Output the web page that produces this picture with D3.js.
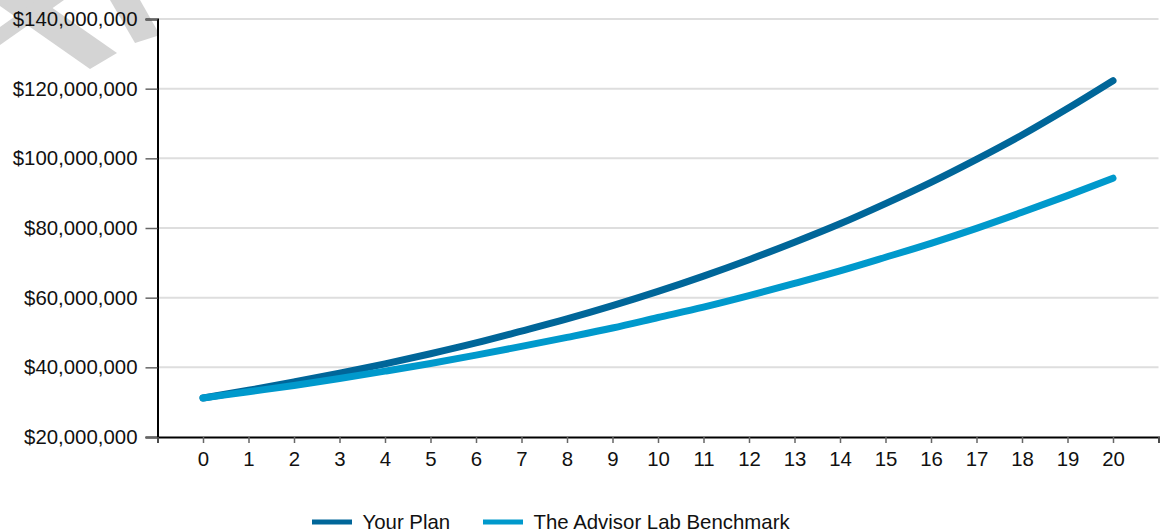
<!DOCTYPE html>
<html>
<head>
<meta charset="utf-8">
<script src="https://cdn.jsdelivr.net/npm/d3@7"></script>
<style>
  html, body { margin: 0; padding: 0; background: #fff; }
  svg { display: block; font-family: "Liberation Sans", Arial, sans-serif; }
</style>
</head>
<body>
<svg id="chart" width="1163" height="532"></svg>
<script>
// Projection years
const years = [0, 1, 2, 3, 4, 5, 6, 7, 8, 9, 10, 11, 12, 13, 14, 15, 16, 17, 18, 19, 20];

// Projected portfolio value (USD)
const yourPlan = [31.2, 33.4, 35.8, 38.3, 41.0, 43.9, 47.0, 50.4, 53.9, 57.7, 61.8,
                  66.2, 70.9, 75.9, 81.2, 87.0, 93.1, 99.7, 106.7, 114.3, 122.3].map(v => v * 1e6);
const benchmark = [31.2, 33.0, 34.8, 36.8, 38.9, 41.1, 43.5, 46.0, 48.6, 51.3, 54.3,
                   57.3, 60.6, 64.1, 67.7, 71.6, 75.6, 79.9, 84.5, 89.3, 94.3].map(v => v * 1e6);

const seriesNames = ["Your Plan", "The Advisor Lab Benchmark"];
const seriesColors = ["#006699", "#0099cc"];

const yTicks = [20e6, 40e6, 60e6, 80e6, 100e6, 120e6, 140e6];
const xTicks = [-1, 0, 1, 2, 3, 4, 5, 6, 7, 8, 9, 10, 11, 12, 13, 14, 15, 16, 17, 18, 19, 20, 21];

const FONT = "'Liberation Sans', Arial, sans-serif";
const FONT_SIZE = 20.4;

const svg = d3.select("#chart");

// Faint background mark in the top-left corner
const mark = svg.append("g").attr("fill", "#d4d4d4");
[
  [[0, 0], [41, 0], [117, 53], [90, 69], [0, 6]],
  [[0, 27], [38, 0], [64, 0], [0, 45]],
  [[110, 0], [140, 0], [157, 30], [157, 36], [135, 43]]
].forEach(pts => mark.append("polygon").attr("points", pts.map(p => p.join(",")).join(" ")));

const x = d3.scaleLinear().domain([-1, 21]).range([157.5, 1158.5]);
const y = d3.scaleLinear().domain([20e6, 140e6]).range([437, 19]);

// Horizontal gridlines
svg.append("g")
  .selectAll("line")
  .data(yTicks.slice(1))
  .join("line")
  .attr("x1", x(-1)).attr("x2", x(21))
  .attr("y1", d => y(d)).attr("y2", d => y(d))
  .attr("stroke", "#dedede")
  .attr("stroke-width", 2);

// Y axis
const fmt = d3.format("$,.0f");
const yAxis = svg.append("g")
  .attr("transform", `translate(${x(-1)},0)`)
  .call(d3.axisLeft(y).tickValues(yTicks).tickFormat(fmt).tickSize(12).tickPadding(8));
yAxis.select(".domain").attr("stroke", "#000").attr("stroke-width", 2);
yAxis.selectAll(".tick line").attr("stroke", "#666").attr("stroke-width", 1.5);
yAxis.selectAll(".tick text").attr("font-size", FONT_SIZE).attr("fill", "#111")
  .attr("font-family", FONT);

// X axis
const xAxis = svg.append("g")
  .attr("transform", `translate(0,${y(20e6)})`)
  .call(d3.axisBottom(x).tickValues(xTicks)
    .tickFormat(d => (d >= 0 && d <= 20) ? String(d) : "")
    .tickSize(6).tickPadding(9));
xAxis.select(".domain").attr("stroke", "#000").attr("stroke-width", 2);
xAxis.selectAll(".tick line").attr("stroke", "#666").attr("stroke-width", 1.5);
xAxis.selectAll(".tick text").attr("font-size", FONT_SIZE).attr("fill", "#111")
  .attr("font-family", FONT);

// Series lines
const line = d3.line()
  .x((d, i) => x(years[i]))
  .y(d => y(d))
  .curve(d3.curveMonotoneX);

[yourPlan, benchmark].forEach((vals, i) => {
  svg.append("path")
    .datum(vals)
    .attr("d", line)
    .attr("fill", "none")
    .attr("stroke", seriesColors[i])
    .attr("stroke-width", 7)
    .attr("stroke-linecap", "round")
    .attr("stroke-linejoin", "round");
});

// Legend
const legendItems = [
  { x: 312, name: seriesNames[0], color: seriesColors[0] },
  { x: 483, name: seriesNames[1], color: seriesColors[1] }
];
const legend = svg.append("g");
legendItems.forEach(it => {
  legend.append("line")
    .attr("x1", it.x).attr("x2", it.x + 40)
    .attr("y1", 522).attr("y2", 522)
    .attr("stroke", it.color).attr("stroke-width", 5);
  legend.append("text")
    .attr("x", it.x + 50.5).attr("y", 528.5)
    .attr("font-size", FONT_SIZE).attr("font-family", FONT).attr("fill", "#111")
    .text(it.name);
});
</script>
</body>
</html>
